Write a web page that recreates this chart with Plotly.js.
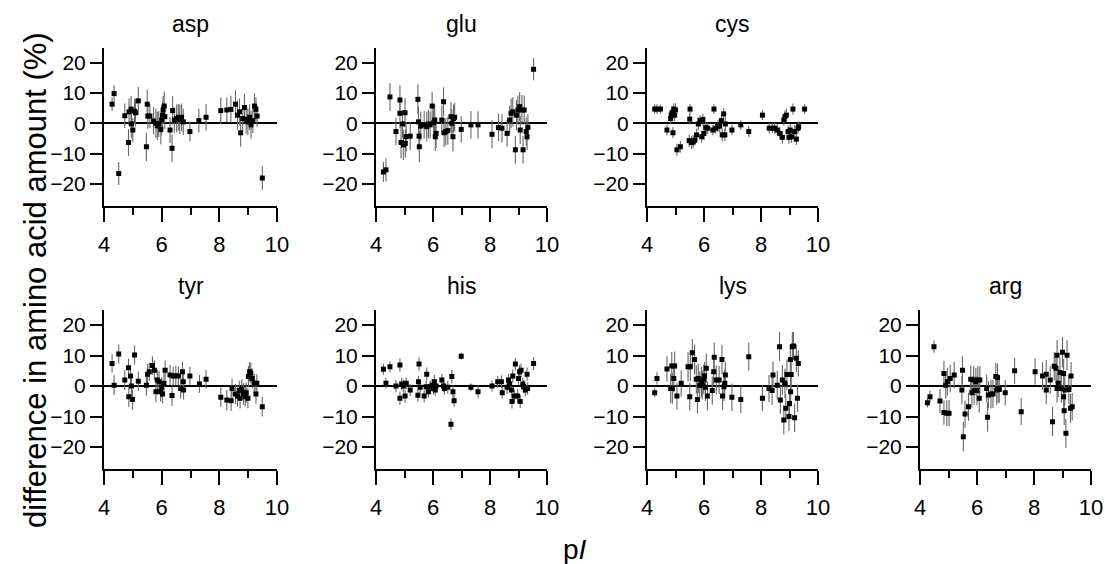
<!DOCTYPE html>
<html>
<head>
<meta charset="utf-8">
<script src="https://cdn.plot.ly/plotly-3.0.1.min.js"></script>
<style>html,body{margin:0;padding:0;background:#fff;}#chart{width:1105px;height:564px;}</style>
</head>
<body>
<div id="chart"></div>
<script>
// ---------- data (pI vs. difference in amino acid amount, %) ----------
const panelNames = ["asp", "glu", "cys", "tyr", "his", "lys", "arg"];

const aspX = [4.28,4.35,4.51,4.72,4.85,4.87,4.94,4.95,5.00,5.06,5.09,5.19,5.47,5.50,5.52,5.59,5.72,5.80,5.85,5.90,5.97,6.00,6.03,6.05,6.09,6.11,6.29,6.36,6.38,6.44,6.52,6.58,6.63,6.69,6.75,6.98,7.29,7.54,8.05,8.26,8.40,8.56,8.63,8.70,8.74,8.81,8.87,8.93,8.99,9.05,9.10,9.16,9.22,9.27,9.31,9.49];
const aspY = [6.3,9.8,-16.5,2.5,-6.3,3.8,4.7,-0.2,-2.2,4.0,3.5,7.4,-7.7,6.3,2.4,2.4,0.8,0,-0.8,-0.2,-2.0,1.1,2.7,4.4,5.7,2.2,-2.2,-8.2,4.2,1.1,1.6,2.0,1.3,2.0,0.5,-2.7,0.9,2.0,4.2,4.4,4.6,6.3,2.7,3.8,-3.1,1.6,5.2,1.3,0.5,2.0,-0.5,0.9,5.7,4.6,2.4,-18.0];
const aspErr = [2.2,2.7,3.8,4.0,4.4,4.5,4.3,4.6,4.0,4.2,4.5,4.6,4.7,4.8,4.2,4.0,4.5,4.8,4.6,4.3,4.9,5.0,4.4,4.6,4.8,4.1,4.3,4.5,4.7,4.2,4.6,4.4,4.9,4.5,4.3,3.2,3.9,4.4,4.3,4.1,4.5,4.6,4.8,4.4,4.6,4.2,4.5,4.7,4.4,4.3,4.6,4.1,4.2,3.9,3.5,3.9];

const gluX = [4.26,4.35,4.49,4.70,4.84,4.84,4.88,4.93,4.96,5.02,5.03,5.06,5.20,5.47,5.49,5.51,5.52,5.57,5.69,5.78,5.84,5.90,5.97,6.02,6.06,6.08,6.11,6.31,6.37,6.39,6.45,6.52,6.63,6.66,6.70,6.72,6.76,6.99,7.33,7.58,8.07,8.30,8.42,8.60,8.69,8.74,8.80,8.89,8.93,8.98,9.04,9.06,9.12,9.16,9.20,9.27,9.30,9.33,9.53];
const gluY = [-16.0,-15.3,8.7,-2.7,7.7,3.3,-6.3,-0.2,-7.1,3.5,-6.6,-4.4,-4.2,7.9,0.5,-4.2,-7.7,-0.9,-0.5,-1.1,-0.2,-0.5,5.7,0.2,1.1,-4.4,-3.3,1.1,7.1,-3.1,-2.7,-2.4,2.2,0,-4.4,1.6,2.0,-2.0,-0.5,-0.5,-3.6,-1.4,-1.6,-3.3,1.1,3.3,3.8,-8.7,2.7,4.4,5.5,-2.2,4.4,-8.7,4.4,-2.7,-4.4,-1.3,17.8];
const gluErr = [3.3,3.8,4.6,4.5,4.8,4.9,5.2,4.6,5.0,4.8,4.7,4.9,4.6,4.9,5.0,4.7,5.1,4.8,4.6,4.9,4.7,4.5,4.6,4.8,5.0,4.7,4.9,4.6,4.8,4.7,4.5,4.6,4.8,4.7,4.9,4.6,4.8,4.3,4.6,4.5,4.6,4.5,4.6,4.4,4.7,4.9,4.8,4.6,5.0,4.8,4.7,4.6,4.9,4.5,4.8,4.6,4.4,4.3,3.6];

const cysX = [4.27,4.35,4.47,4.70,4.83,4.85,4.88,4.91,4.94,4.97,5.00,5.05,5.17,5.50,5.51,5.48,5.56,5.62,5.68,5.74,5.80,5.86,5.92,5.96,6.00,6.06,6.13,6.31,6.35,6.41,6.49,6.55,6.61,6.64,6.69,6.73,6.75,6.98,7.29,7.57,8.05,8.29,8.40,8.48,8.57,8.66,8.75,8.80,8.84,8.89,8.95,8.98,9.03,9.07,9.12,9.18,9.24,9.30,9.32,9.53];
const cysY = [4.7,4.7,4.7,-2.2,1.6,2.7,3.5,-3.1,4.7,2.7,4.4,-8.7,-7.7,1.4,4.7,-5.7,-6.3,-6.0,-5.5,-3.8,-0.2,0.9,-4.4,1.3,-3.3,-1.3,-1.6,-2.2,4.7,-1.6,-0.9,-0.9,0.9,-3.8,3.1,-3.8,-0.2,-2.2,-0.5,-2.7,2.7,-1.6,-1.6,-1.6,-2.2,-3.3,-4.6,1.1,2.2,2.7,-2.7,-4.6,-2.2,-4.4,4.7,-2.7,-5.2,-1.6,-1.1,4.7];
const cysErr = [1.6,1.6,1.5,1.8,1.9,2.0,2.1,1.8,1.9,2.0,2.2,2.0,1.9,1.8,1.7,2.0,2.1,2.2,1.9,2.0,2.1,1.8,2.0,1.9,2.2,1.8,1.9,1.7,1.6,1.8,1.9,2.0,1.8,2.1,1.9,2.0,2.2,1.7,1.5,1.8,1.6,1.7,1.6,1.8,1.9,2.0,2.1,1.9,2.0,2.2,2.0,2.1,1.9,2.0,1.8,2.1,1.9,1.8,1.7,1.6];

const tyrX = [4.28,4.35,4.51,4.72,4.85,4.86,4.92,4.95,4.99,5.06,5.19,5.47,5.51,5.57,5.68,5.75,5.80,5.85,5.91,5.96,6.00,6.03,6.08,6.12,6.29,6.36,6.40,6.49,6.58,6.66,6.72,6.75,6.76,6.98,7.31,7.54,8.05,8.26,8.41,8.44,8.56,8.63,8.69,8.72,8.78,8.84,8.90,8.93,8.99,9.01,9.05,9.09,9.14,9.21,9.27,9.30,9.49];
const tyrY = [7.4,0.3,10.5,2.0,6.0,-3.5,3.3,0,-4.4,10.2,1.6,0.3,3.9,4.7,6.7,5.2,-1.9,2.0,1.4,-1.9,-0.4,-2.6,0.9,5.2,3.6,-3.1,3.3,3.4,3.3,-0.8,4.7,1.4,-1.3,3.3,0.7,2.2,-3.7,-4.6,-4.8,-0.8,-2.6,-3.3,-1.5,-4.0,-1.1,-2.6,-3.5,-2.2,-4.0,3.1,4.7,4.2,2.5,0.9,-2.6,0.9,-6.8];
const tyrErr = [3.0,3.2,3.1,3.3,3.0,3.4,3.2,3.5,3.3,3.1,3.2,3.4,3.3,3.0,3.1,3.2,3.4,3.3,3.5,3.2,3.3,3.1,3.4,3.2,3.3,3.4,3.0,3.2,3.1,3.3,3.2,3.4,3.1,3.0,2.9,3.1,3.2,3.3,3.4,3.2,3.3,3.5,3.2,3.4,3.3,3.5,3.2,3.4,3.3,3.5,3.2,3.4,3.3,3.2,3.1,3.0,3.2];

const hisX = [4.26,4.35,4.49,4.70,4.84,4.84,4.90,4.96,5.02,5.06,5.20,5.47,5.49,5.51,5.55,5.69,5.76,5.78,5.84,5.90,5.97,6.02,6.05,6.08,6.11,6.31,6.37,6.40,6.52,6.63,6.66,6.70,6.74,6.99,7.33,7.58,8.07,8.27,8.40,8.43,8.60,8.65,8.69,8.75,8.77,8.80,8.86,8.89,8.97,9.00,9.04,9.06,9.09,9.15,9.18,9.24,9.30,9.32,9.53];
const hisY = [5.5,0.9,6.3,0,6.9,-4.0,0.7,0,-3.3,0.9,-1.3,-3.0,1.4,7.2,-0.4,-3.3,-0.2,3.9,-1.9,-0.2,0.3,-0.8,1.4,-1.3,0,2.0,0,-0.8,-0.4,-12.5,3.1,-1.9,-4.8,9.8,-0.4,-1.9,0,1.4,1.4,-2.2,-0.4,2.0,0.7,-1.3,-5.1,3.3,-3.3,7.2,-3.3,2.5,4.7,-5.1,5.2,0.7,-0.2,-1.3,3.9,-0.8,7.4];
const hisErr = [1.8,1.7,1.8,2.0,2.1,2.2,2.0,2.1,2.2,1.9,2.0,2.1,2.0,2.2,1.9,2.1,2.0,2.2,1.9,2.0,2.1,2.0,2.2,1.9,2.1,2.0,1.9,2.0,2.1,1.9,2.2,2.1,2.0,1.1,1.2,1.9,1.8,2.0,2.1,2.0,2.2,2.0,2.1,2.2,2.3,2.1,2.2,2.0,2.3,2.1,2.2,2.1,2.2,2.0,2.1,2.0,2.2,2.0,2.1];

const lysX = [4.27,4.35,4.70,4.83,4.87,4.89,4.94,4.97,5.05,5.20,5.44,5.50,5.52,5.59,5.67,5.73,5.77,5.80,5.85,5.91,5.94,5.99,6.02,6.05,6.08,6.12,6.29,6.34,6.36,6.43,6.53,6.63,6.65,6.70,6.73,6.75,6.98,7.29,7.57,8.05,8.28,8.39,8.42,8.57,8.65,8.68,8.75,8.80,8.84,8.87,8.91,8.98,9.00,9.03,9.04,9.06,9.10,9.14,9.18,9.24,9.28,9.31];
const lysY = [-2.2,2.5,5.6,-0.8,6.6,-0.8,2.5,6.6,-3.3,0.9,6.3,-3.5,6.3,10.9,8.7,2.2,-4.4,2.5,0.3,1.4,0.3,2.2,3.3,-0.4,5.8,-3.3,-1.5,4.7,9.4,2.0,2.0,8.7,-3.3,-0.2,0.9,3.6,-3.7,-4.4,9.6,-4.0,-0.8,-1.5,3.6,0.3,12.9,-4.6,2.0,-11.1,0.9,-7.3,3.8,-10.0,-5.7,8.7,-1.9,3.8,12.9,13.1,-10.4,9.1,-4.0,7.4];
const lysErr = [1.5,2.0,4.2,4.8,4.6,5.0,4.5,4.7,4.4,4.3,4.8,4.6,4.7,4.5,4.9,4.7,4.6,4.8,4.5,4.9,4.7,4.8,4.6,4.5,4.8,4.7,4.6,4.5,4.9,4.7,4.6,4.8,4.5,4.7,4.6,4.4,4.5,4.4,4.6,4.3,4.4,4.6,4.5,4.7,4.8,4.6,4.9,4.7,4.8,4.6,4.9,4.7,4.8,4.6,4.9,4.7,4.8,4.6,4.7,4.5,4.4,4.3];

const argX = [4.26,4.35,4.49,4.70,4.84,4.84,4.90,4.94,4.96,5.02,5.06,5.20,5.47,5.49,5.52,5.58,5.70,5.78,5.82,5.88,5.90,5.96,6.00,6.03,6.08,6.10,6.34,6.37,6.40,6.49,6.56,6.66,6.69,6.72,6.74,6.78,6.99,7.32,7.55,8.04,8.30,8.43,8.43,8.57,8.65,8.71,8.77,8.81,8.81,8.85,8.91,8.96,9.00,9.04,9.04,9.06,9.08,9.12,9.16,9.22,9.28,9.30,9.34];
const argY = [-5.5,-3.5,12.9,-4.9,4.1,-8.7,0.3,-8.9,1.4,-8.9,2.5,3.6,-1.3,5.2,-16.6,-9.2,-6.8,2.2,-2.2,2.0,-1.5,1.4,-1.5,2.0,-4.0,2.0,-0.8,-10.2,-2.9,-2.6,-2.6,3.1,-1.3,2.8,-0.8,-1.1,-2.2,5.0,-8.4,4.7,3.3,3.9,-1.3,2.0,-11.7,6.5,5.8,-0.8,10.1,0.9,4.4,-0.8,11.1,4.1,-3.5,-8.1,-1.3,-15.5,10.1,-1.1,-7.3,3.3,-6.8];
const argErr = [1.5,2.0,2.0,4.0,4.2,4.0,4.5,4.2,4.6,4.3,4.5,4.4,4.7,4.6,4.8,4.5,4.6,4.5,4.8,4.6,4.7,4.5,4.8,4.6,4.7,4.5,4.6,4.8,4.5,4.7,4.6,4.5,4.8,4.6,4.7,4.5,4.2,4.3,4.4,4.3,4.5,4.6,4.7,4.5,4.8,4.6,4.9,4.7,5.0,4.6,4.8,4.7,5.0,4.8,4.6,4.7,4.9,4.8,4.9,4.7,4.8,4.6,4.5];

const xTickVals = [4, 6, 8, 10];
const xMinorVals = [5, 7, 9];
const yTickVals = [-20, -10, 0, 10, 20];
const yTitleText = "difference in amino acid amount (%)";
const xTitleText = "p<i>I</i>";

// ---------- layout helpers ----------
const W = 1105, H = 564;
const FONT = "Liberation Sans, Arial, Helvetica, sans-serif";
const colPx = [[104, 277], [376, 547], [647, 818], [920, 1091]];
const rowPx = [[48, 206], [310.4, 469]];
// panel -> [row, col]
const placement = [[0,0],[0,1],[0,2],[1,0],[1,1],[1,2],[1,3]];
const series = [
  [aspX, aspY, aspErr], [gluX, gluY, gluErr], [cysX, cysY, cysErr],
  [tyrX, tyrY, tyrErr], [hisX, hisY, hisErr], [lysX, lysY, lysErr], [argX, argY, argErr]
];

const traces = [];
const layout = {
  width: W, height: H,
  margin: {l: 0, r: 0, t: 0, b: 0},
  paper_bgcolor: "#ffffff", plot_bgcolor: "#ffffff",
  showlegend: false,
  font: {family: FONT, color: "#000"},
  annotations: []
};

placement.forEach((rc, i) => {
  const [r, c] = rc;
  const sfx = i === 0 ? "" : String(i + 1);
  const [xs, ys, es] = series[i];
  traces.push({
    type: "scatter", mode: "markers",
    x: xs, y: ys,
    xaxis: "x" + sfx, yaxis: "y" + sfx,
    marker: {symbol: "square", size: 5, color: "#000"},
    error_y: {type: "data", array: es, visible: true, color: "#666666", thickness: 1.1, width: 0},
    hoverinfo: "x+y"
  });
  const xd = [colPx[c][0] / W, colPx[c][1] / W];
  const yd = [1 - rowPx[r][1] / H, 1 - rowPx[r][0] / H];
  layout["xaxis" + sfx] = {
    domain: xd, anchor: "y" + sfx, range: [4, 10],
    tickmode: "array", tickvals: xTickVals,
    ticks: "outside", ticklen: 14, tickwidth: 2, tickcolor: "#000",
    minor: {tickmode: "array", tickvals: xMinorVals, ticks: "outside", ticklen: 7, tickwidth: 2, tickcolor: "#000", showgrid: false},
    showline: true, linecolor: "#000", linewidth: 2,
    showgrid: false, zeroline: false,
    tickfont: {family: FONT, size: 22, color: "#000"},
    ticklabelstandoff: 4,
    fixedrange: true
  };
  layout["yaxis" + sfx] = {
    domain: yd, anchor: "x" + sfx, range: [-27.2, 24.8],
    tickmode: "array", tickvals: yTickVals,
    ticks: "outside", ticklen: 12, tickwidth: 2, tickcolor: "#000",
    showline: true, linecolor: "#000", linewidth: 2,
    showgrid: false,
    zeroline: true, zerolinecolor: "#000", zerolinewidth: 2,
    tickfont: {family: FONT, size: 21, color: "#000"},
    fixedrange: true
  };
  layout.annotations.push({
    text: panelNames[i], xref: "paper", yref: "paper",
    x: (xd[0] + xd[1]) / 2, y: 1 - (rowPx[r][0] - 24) / H,
    xanchor: "center", yanchor: "middle", showarrow: false,
    font: {family: FONT, size: 23, color: "#000"}
  });
});

layout.annotations.push({
  text: yTitleText, xref: "paper", yref: "paper",
  x: 35 / W, y: 1 - 280 / H, textangle: -90,
  xanchor: "center", yanchor: "middle", showarrow: false,
  font: {family: FONT, size: 31, color: "#000"}
});
layout.annotations.push({
  text: xTitleText, xref: "paper", yref: "paper",
  x: 575 / W, y: 1 - 549 / H,
  xanchor: "center", yanchor: "middle", showarrow: false,
  font: {family: FONT, size: 28, color: "#000"}
});

Plotly.newPlot("chart", traces, layout, {displayModeBar: false, staticPlot: true});
</script>
</body>
</html>
